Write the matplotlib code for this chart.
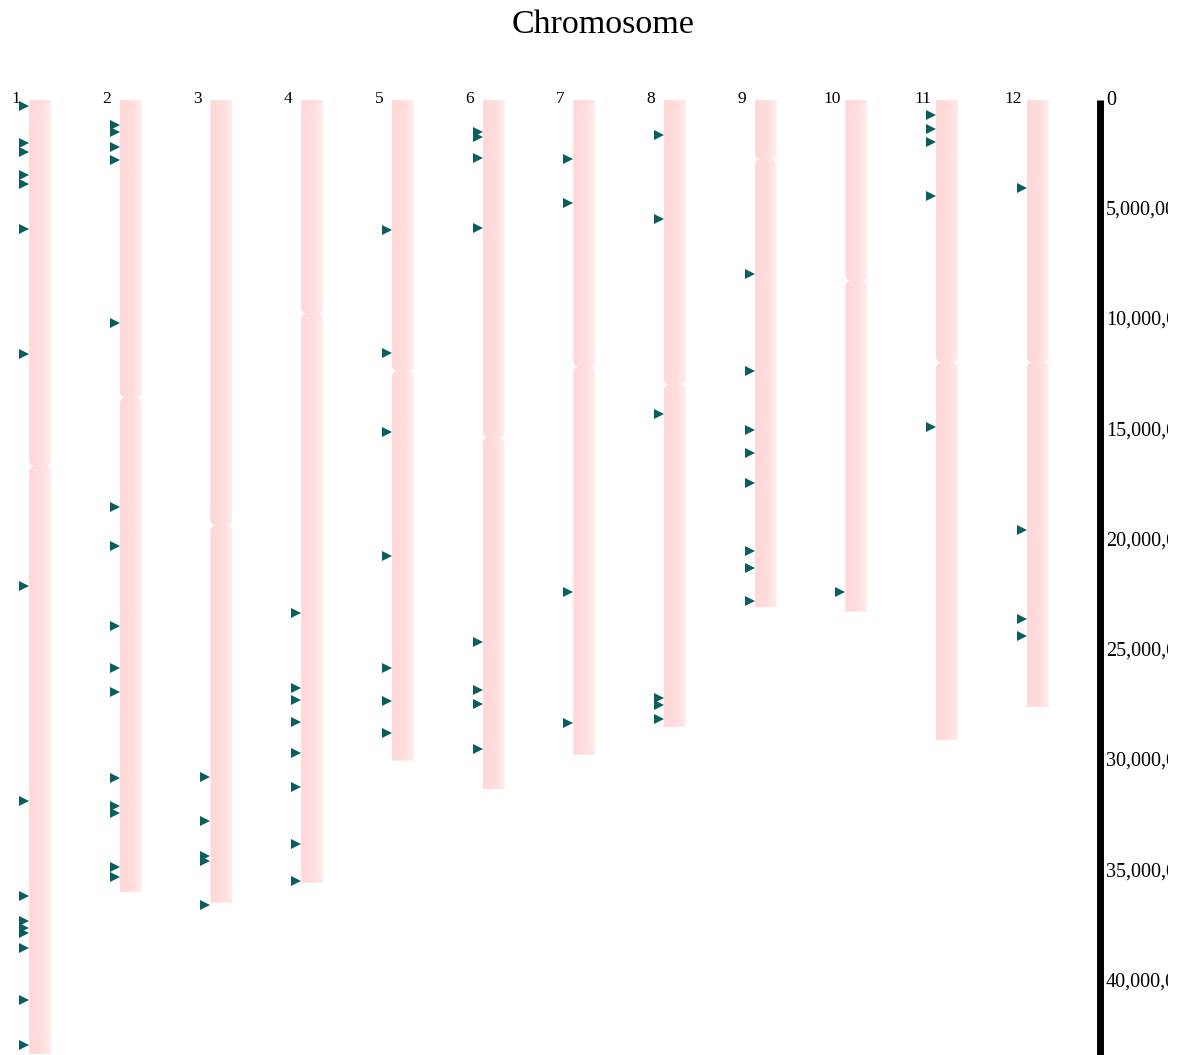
import numpy as np
import matplotlib
matplotlib.use('Agg')
import matplotlib.pyplot as plt
from matplotlib.path import Path
from matplotlib.patches import PathPatch
from matplotlib.colors import LinearSegmentedColormap

plt.rcParams['font.family'] = ['Liberation Serif', 'DejaVu Serif']

# chromosome sizes and centromere positions (bp)
chrom_names = ['1', '2', '3', '4', '5', '6', '7', '8', '9', '10', '11', '12']
chrom_lengths = [43.27e6, 35.94e6, 36.41e6, 35.50e6, 29.96e6, 31.25e6,
                 29.70e6, 28.44e6, 23.01e6, 23.21e6, 29.02e6, 27.53e6]
centromeres = [16.6e6, 13.5e6, 19.3e6, 9.7e6, 12.3e6, 15.3e6,
               12.1e6, 12.9e6, 2.7e6, 8.2e6, 11.9e6, 11.9e6]

# gene positions on each chromosome (Mb)
gene_pos = [
    [0.27, 1.95, 2.36, 3.40, 3.81, 5.85, 11.52, 22.04, 31.79, 36.10, 37.23,
     37.55, 37.78, 38.46, 40.82, 42.86],
    [1.13, 1.44, 2.12, 2.72, 10.11, 18.46, 20.23, 23.85, 25.76, 26.85, 30.75,
     32.02, 32.34, 34.78, 35.24],
    [30.70, 32.70, 34.29, 34.51, 36.51],
    [23.25, 26.68, 27.21, 28.19, 29.63, 31.14, 33.75, 35.42],
    [5.90, 11.47, 15.06, 20.68, 25.76, 27.26, 28.71],
    [1.44, 1.66, 2.64, 5.80, 24.58, 26.76, 27.39, 29.43],
    [2.68, 4.67, 22.31, 28.25],
    [1.59, 5.40, 14.24, 27.13, 27.44, 28.09],
    [7.89, 12.29, 14.97, 16.01, 17.37, 20.45, 21.22, 22.72],
    [22.31],
    [0.68, 1.33, 1.92, 4.35, 14.83],
    [3.99, 19.50, 23.54, 24.31],
]

tick_values = [0, 5e6, 10e6, 15e6, 20e6, 25e6, 30e6, 35e6, 40e6]
tick_labels = ['0', '5,000,000', '10,000,000', '15,000,000', '20,000,000',
               '25,000,000', '30,000,000', '35,000,000', '40,000,000']

# pixel -> data unit helpers
PX_X = 1 / 90.7
PX_Y = 1e6 / 22.05

W, H = 1184, 1055
fig = plt.figure(figsize=(W / 100, H / 100), dpi=100)
ax = fig.add_axes([0, 0, 1168 / W, 995 / H])
ax.axis('off')

cmap = LinearSegmentedColormap.from_list('chrom', ['#ffd8d8', '#ffdcdc', '#ffebeb'])
grad = np.linspace(0, 1, 64).reshape(1, -1)

bar_w = 22 * PX_X
notch_d = 7 * PX_X
notch_h = 6 * PX_Y


def chrom_path(x0, x1, length, cen):
    verts = [(x0, 0), (x0, cen - notch_h), (x0, cen), (x0 + notch_d, cen),
             (x0, cen), (x0, cen + notch_h), (x0, length), (x1, length),
             (x1, cen + notch_h), (x1, cen), (x1 - notch_d, cen), (x1, cen),
             (x1, cen - notch_h), (x1, 0), (x0, 0)]
    codes = [Path.MOVETO, Path.LINETO, Path.CURVE3, Path.CURVE3,
             Path.CURVE3, Path.CURVE3, Path.LINETO, Path.LINETO,
             Path.LINETO, Path.CURVE3, Path.CURVE3, Path.CURVE3,
             Path.CURVE3, Path.LINETO, Path.CLOSEPOLY]
    return Path(verts, codes)


for i, name in enumerate(chrom_names):
    xc = i + 1
    x0, x1 = xc - bar_w / 2, xc + bar_w / 2
    length = chrom_lengths[i]
    patch = PathPatch(chrom_path(x0, x1, length, centromeres[i]),
                      facecolor='none', edgecolor='none')
    ax.add_patch(patch)
    im = ax.imshow(grad, cmap=cmap, extent=[x0, x1, length, 0],
                   aspect='auto', interpolation='bilinear')
    im.set_clip_path(patch)

    ax.text(xc - 24 * PX_X, 3 * PX_Y, name, ha='center', va='baseline',
            fontsize=12.5)

    ys = np.array(gene_pos[i]) * 1e6
    ax.plot(np.full(len(ys), xc - 16 * PX_X), ys, linestyle='none',
            marker='>', ms=7.5, mew=0, color='#0b5e5e', clip_on=False)

# scale bar on the right, labels run off the edge
axis_x = 1 + 1060 * PX_X
ax.plot([axis_x, axis_x], [0, 955 * PX_Y], color='black', lw=5,
        solid_capstyle='butt')
for v, lab in zip(tick_values, tick_labels):
    ax.text(axis_x + 6 * PX_X, v, lab, ha='left', va='center', fontsize=14.5,
            clip_on=True)

ax.set_xlim(1 - 40 * PX_X, 1 + 1128 * PX_X)
ax.set_ylim(955 * PX_Y, -40 * PX_Y)

fig.text(603 / W, 1 - 25 / H, 'Chromosome', ha='center', va='center',
         fontsize=24.5)

fig.savefig('out.png', dpi=100)
